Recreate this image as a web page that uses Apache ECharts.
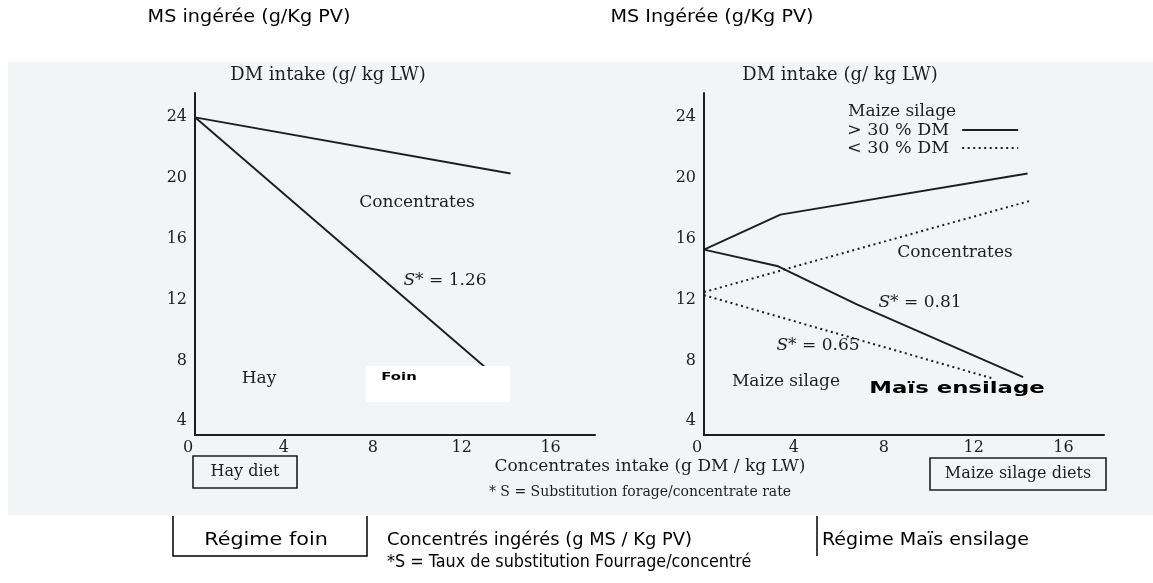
<!DOCTYPE html>
<html>
<head>
<meta charset="utf-8">
<script src="https://cdn.jsdelivr.net/npm/echarts@6/dist/echarts.min.js"></script>
<style>html,body{margin:0;padding:0;background:#fff;}#c{width:1153px;height:583px;}</style>
</head>
<body>
<div id="c"></div>
<script>
// ---- data ----
const xTickValues = [0, 4, 8, 12, 16];
const yTickValues = [4, 8, 12, 16, 20, 24];
// Hay diet
const hayTotalX = [0, 14.2];
const hayTotalY = [24, 20.3];
const hayForageX = [0, 13.5];
const hayForageY = [24, 7.0];
// Maize silage > 30 % DM
const msHiTotalX = [0, 3.4, 14.4];
const msHiTotalY = [15.3, 17.6, 20.3];
const msHiForageX = [0, 3.3, 6.8, 14.2];
const msHiForageY = [15.3, 14.2, 11.7, 6.9];
// Maize silage < 30 % DM
const msLoTotalX = [0, 3.6, 14.5];
const msLoTotalY = [12.5, 14.0, 18.5];
const msLoForageX = [0, 12.9];
const msLoForageY = [12.3, 6.8];

const pairs = (xs, ys) => xs.map((x, i) => [x, ys[i]]);

const SERIF = '"DejaVu Serif"';
const SANS = '"DejaVu Sans"';
const INK = '#1e1e1e';

function xAxisCfg(gi, max) {
  return {
    type: 'value', gridIndex: gi, min: 0, max: max,
    axisLine: { onZero: false, lineStyle: { color: INK, width: 2 } },
    axisTick: { show: false }, splitLine: { show: false },
    axisLabel: {
      customValues: xTickValues, margin: 5, color: INK,
      fontFamily: SERIF, fontSize: 16,
      formatter: v => v === 0 ? '{z|0}' : String(v),
      rich: { z: { fontFamily: SERIF, fontSize: 16, color: INK, padding: [0, 14, 0, 0] } }
    }
  };
}
function yAxisCfg(gi) {
  return {
    type: 'value', gridIndex: gi, min: 3.1, max: 25.6,
    axisLine: { onZero: false, lineStyle: { color: INK, width: 2 } },
    axisTick: { show: false }, splitLine: { show: false },
    axisLabel: { customValues: yTickValues, margin: 8, color: INK, fontFamily: SERIF, fontSize: 16 }
  };
}
function lineSeries(name, gi, data, dotted) {
  return {
    type: 'line', name: name, xAxisIndex: gi, yAxisIndex: gi, data: data,
    symbol: 'none', silent: true, animation: false,
    lineStyle: dotted ? { color: INK, width: 2, type: [2, 3.5] } : { color: INK, width: 1.9 },
    itemStyle: { color: INK }
  };
}
function txt(x, y, text, font, styleExtra, elExtra) {
  const el = {
    type: 'text', x: x, y: y, z: 20, silent: true,
    style: Object.assign({ text: text, font: font, fill: INK, align: 'center', verticalAlign: 'middle' }, styleExtra || {})
  };
  return Object.assign(el, elExtra || {});
}
const italicS = { rich: { i: { font: 'italic 17px ' + SERIF, fill: INK } } };
const BLK = { fill: '#000' };
const BLKL = { fill: '#000', align: 'left' };

const chart = echarts.init(document.getElementById('c'), null, { renderer: 'canvas' });
const option = {
  backgroundColor: '#ffffff',
  animation: false,
  grid: [
    { left: 195, top: 93, width: 400, height: 342 },
    { left: 704, top: 93, width: 400, height: 342 }
  ],
  xAxis: [xAxisCfg(0, 18), xAxisCfg(1, 17.8)],
  yAxis: [yAxisCfg(0), yAxisCfg(1)],
  legend: {
    data: ['> 30 % DM', '< 30 % DM'],
    orient: 'vertical', left: 847, top: 121, align: 'right',
    itemWidth: 56, itemHeight: 12, itemGap: 0, padding: 0,
    selectedMode: false,
    itemStyle: { color: 'rgba(0,0,0,0)', borderColor: 'rgba(0,0,0,0)', borderWidth: 0 },
    textStyle: { fontFamily: SERIF, fontSize: 17.5, color: INK, lineHeight: 16, padding: [0, 8, 0, 0] }
  },
  series: [
    lineSeries('hay total', 0, pairs(hayTotalX, hayTotalY), false),
    lineSeries('hay forage', 0, pairs(hayForageX, hayForageY), false),
    lineSeries('> 30 % DM', 1, pairs(msHiTotalX, msHiTotalY), false),
    lineSeries('> 30 % DM', 1, pairs(msHiForageX, msHiForageY), false),
    lineSeries('< 30 % DM', 1, pairs(msLoTotalX, msLoTotalY), true),
    lineSeries('< 30 % DM', 1, pairs(msLoForageX, msLoForageY), true)
  ],
  graphic: [
    // scanned figure background
    { type: 'rect', z: -10, silent: true, shape: { x: 8, y: 62, width: 1145, height: 453 }, style: { fill: '#f2f4f6' } },
    // axis titles
    txt(328, 75, 'DM intake (g/ kg LW)', '18px ' + SERIF),
    txt(840, 75, 'DM intake (g/ kg LW)', '18px ' + SERIF),
    // left panel annotations
    txt(417, 203, 'Concentrates', '17px ' + SERIF),
    txt(445, 281, '{i|S}* = 1.26', '17px ' + SERIF, italicS),
    txt(259, 379, 'Hay', '17px ' + SERIF),
    { type: 'rect', z: 15, silent: true, shape: { x: 366, y: 366, width: 144, height: 36 }, style: { fill: '#ffffff' } },
    txt(399, 377, 'Foin', 'bold 11px ' + SANS, BLK, { scaleX: 1.35 }),
    // right panel annotations
    txt(848, 112, 'Maize silage', '17px ' + SERIF, { align: 'left' }),
    txt(955, 253, 'Concentrates', '17px ' + SERIF),
    txt(920, 303, '{i|S}* = 0.81', '17px ' + SERIF, italicS),
    txt(818, 346, '{i|S}* = 0.65', '17px ' + SERIF, italicS),
    txt(786, 382, 'Maize silage', '17px ' + SERIF),
    txt(957, 389, 'Maïs ensilage', 'bold 15px ' + SANS, BLK, { scaleX: 1.52 }),
    // under axes (scan)
    { type: 'rect', z: 5, silent: true, shape: { x: 193, y: 456, width: 104, height: 32 }, style: { fill: 'none', stroke: INK, lineWidth: 1.6 } },
    txt(245, 472, 'Hay diet', '16px ' + SERIF),
    { type: 'rect', z: 5, silent: true, shape: { x: 930, y: 458, width: 176, height: 32 }, style: { fill: 'none', stroke: INK, lineWidth: 1.6 } },
    txt(1018, 474, 'Maize silage diets', '16px ' + SERIF),
    txt(650, 467, 'Concentrates intake (g DM / kg LW)', '17px ' + SERIF),
    txt(640, 492, '* S = Substitution forage/concentrate rate', '14px ' + SERIF),
    // French annotations (outside scan)
    txt(249, 18, 'MS ingérée (g/Kg PV)', '17px ' + SANS, BLK, { scaleX: 1.13 }),
    txt(712, 18, 'MS Ingérée (g/Kg PV)', '17px ' + SANS, BLK, { scaleX: 1.13 }),
    { type: 'polyline', z: 5, silent: true, shape: { points: [[173, 516], [173, 556], [367, 556], [367, 516]] }, style: { fill: 'none', stroke: '#000', lineWidth: 1.5 } },
    txt(266, 541, 'Régime foin', '17px ' + SANS, BLK, { scaleX: 1.22 }),
    txt(387, 541, 'Concentrés ingérés (g MS / Kg PV)', '17px ' + SANS, BLKL, { scaleX: 1.05 }),
    txt(387, 563, '*S = Taux de substitution Fourrage/concentré', '17px ' + SANS, BLKL, { scaleX: 0.94 }),
    { type: 'polyline', z: 5, silent: true, shape: { points: [[817, 516], [817, 556]] }, style: { fill: 'none', stroke: '#000', lineWidth: 1.5 } },
    txt(822, 541, 'Régime Maïs ensilage', '17px ' + SANS, BLKL, { scaleX: 1.12 })
  ]
};
chart.setOption(option);
</script>
</body>
</html>
